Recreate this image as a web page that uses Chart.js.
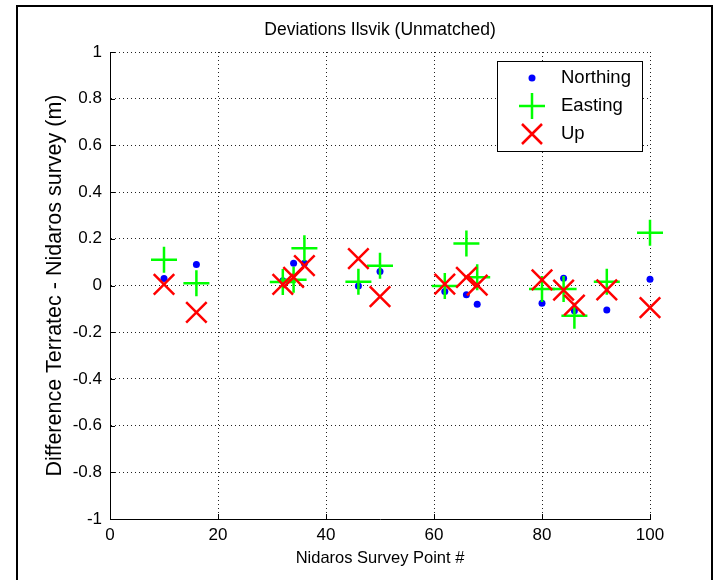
<!DOCTYPE html>
<html>
<head>
<meta charset="utf-8">
<script src="https://cdn.jsdelivr.net/npm/chart.js@4.4.0/dist/chart.umd.min.js"></script>
<style>
    body { margin: 0; background: #fff; }
    #wrap { width: 715px; height: 580px; }
</style>
</head>
<body>
<div id="wrap"><canvas id="grafica" width="715" height="580"></canvas></div>
<script>
// Nidaros survey points and the deviations (m)
const puntos   = [10, 16, 32, 34, 36, 46, 50, 62, 66, 68, 80, 84, 86, 92, 100];
const northing = [0.03, 0.09, 0.02, 0.095, 0.095, -0.002, 0.06, -0.026, -0.04, -0.08, -0.076, 0.031, -0.108, -0.105, 0.027];
const easting  = [0.11, 0.01, 0.015, 0.025, 0.16, 0.016, 0.085, -0.002, 0.18, 0.035, -0.015, -0.015, -0.13, 0.016, 0.226];
const up       = [0.005, -0.115, 0.005, 0.035, 0.085, 0.115, -0.048, 0.006, 0.035, 0.002, 0.024, -0.02, -0.084, -0.019, -0.095];

const ticksX = [0, 20, 40, 60, 80, 100];
const ticksY = [-1, -0.8, -0.6, -0.4, -0.2, 0, 0.2, 0.4, 0.6, 0.8, 1];

const titulo = 'Deviations Ilsvik (Unmatched)';
const tituloX = 'Nidaros Survey Point #';
const tituloY = 'Difference Terratec - Nidaros survey (m)';
const leyenda = ['Northing', 'Easting', 'Up'];

const fuente = '"Liberation Sans", Arial, sans-serif';
Chart.defaults.font.family = fuente;
Chart.defaults.font.size = 17;
Chart.defaults.color = '#000';

function pares(ys) {
    return puntos.map((x, i) => ({ x: x, y: ys[i] }));
}

// figure frame, inward ticks, title and legend (matlab look)
const marco = {
    id: 'marco',
    beforeDraw(chart) {
        const ctx = chart.ctx;
        ctx.save();
        ctx.fillStyle = '#fff';
        ctx.fillRect(0, 0, chart.width, chart.height);
        ctx.strokeStyle = '#000';
        ctx.lineWidth = 2;
        ctx.beginPath();
        ctx.moveTo(17, 580);
        ctx.lineTo(17, 6);
        ctx.lineTo(712, 6);
        ctx.lineTo(712, 580);
        ctx.stroke();
        ctx.restore();
    },
    afterDraw(chart) {
        const ctx = chart.ctx;
        const xs = chart.scales.x, ys = chart.scales.y;
        const area = chart.chartArea;
        ctx.save();
        ctx.strokeStyle = '#000';
        ctx.lineWidth = 1;
        ctx.beginPath();
        ticksX.forEach(v => {
            const px = Math.round(xs.getPixelForValue(v)) + 0.5;
            ctx.moveTo(px, area.bottom);
            ctx.lineTo(px, area.bottom - 5);
        });
        ticksY.forEach(v => {
            const py = Math.round(ys.getPixelForValue(v)) + 0.5;
            ctx.moveTo(area.left, py);
            ctx.lineTo(area.left + 5, py);
        });
        ctx.stroke();

        ctx.fillStyle = '#000';
        ctx.font = '17.5px ' + fuente;
        ctx.textAlign = 'center';
        ctx.textBaseline = 'middle';
        ctx.fillText(titulo, (area.left + area.right) / 2, 30);

        // legend
        ctx.fillStyle = '#fff';
        ctx.fillRect(497.5, 61.5, 145, 90);
        ctx.strokeStyle = '#000';
        ctx.strokeRect(497.5, 61.5, 145, 90);
        const filas = [78, 106, 134];
        ctx.fillStyle = '#0000ff';
        ctx.beginPath();
        ctx.arc(532, filas[0], 3.5, 0, Math.PI * 2);
        ctx.fill();
        ctx.lineWidth = 2.5;
        ctx.strokeStyle = '#00ff00';
        ctx.beginPath();
        ctx.moveTo(519, filas[1]); ctx.lineTo(545, filas[1]);
        ctx.moveTo(532, filas[1] - 13); ctx.lineTo(532, filas[1] + 13);
        ctx.stroke();
        ctx.strokeStyle = '#ff0000';
        ctx.beginPath();
        ctx.moveTo(522, filas[2] - 10); ctx.lineTo(542, filas[2] + 10);
        ctx.moveTo(522, filas[2] + 10); ctx.lineTo(542, filas[2] - 10);
        ctx.stroke();
        ctx.fillStyle = '#000';
        ctx.font = '18.5px ' + fuente;
        ctx.textAlign = 'left';
        leyenda.forEach((t, i) => ctx.fillText(t, 561, filas[i]));
        ctx.restore();
    }
};

const ctx = document.getElementById('grafica').getContext('2d');
const myChart = new Chart(ctx, {
    type: 'scatter',
    data: {
        datasets: [{
            label: leyenda[0],
            data: pares(northing),
            pointStyle: 'circle',
            pointRadius: 3.5,
            pointBorderWidth: 0,
            backgroundColor: '#0000ff',
            borderColor: '#0000ff',
            order: 3
        }, {
            label: leyenda[1],
            data: pares(easting),
            pointStyle: 'cross',
            pointRadius: 13,
            pointBorderWidth: 2.5,
            borderColor: '#00ff00',
            backgroundColor: '#00ff00',
            order: 2
        }, {
            label: leyenda[2],
            data: pares(up),
            pointStyle: 'crossRot',
            pointRadius: 14.5,
            pointBorderWidth: 2.5,
            borderColor: '#ff0000',
            backgroundColor: '#ff0000',
            order: 1
        }]
    },
    options: {
        responsive: false,
        animation: false,
        events: [],
        clip: false,
        layout: {
            padding: { left: 0, top: 52, right: 65, bottom: 0 }
        },
        plugins: {
            legend: { display: false },
            tooltip: { enabled: false },
            title: { display: false }
        },
        scales: {
            x: {
                type: 'linear',
                min: 0,
                max: 100,
                afterFit: s => { s.height = 61; },
                afterBuildTicks: s => { s.ticks = ticksX.map(v => ({ value: v })); },
                ticks: { padding: 6, maxRotation: 0 },
                grid: {
                    drawTicks: false,
                    color: '#222',
                    lineWidth: 1
                },
                border: { display: true, color: '#000', width: 1, dash: [1, 3] },
                title: {
                    display: true,
                    text: tituloX,
                    font: { size: 16.5 },
                    padding: { bottom: 12 }
                }
            },
            y: {
                type: 'linear',
                min: -1,
                max: 1,
                afterFit: s => { s.width = 110; },
                afterBuildTicks: s => { s.ticks = ticksY.map(v => ({ value: v })); },
                ticks: { padding: 8, callback: v => String(v) },
                grid: {
                    drawTicks: false,
                    color: '#222',
                    lineWidth: 1
                },
                border: { display: true, color: '#000', width: 1, dash: [1, 3] },
                title: {
                    display: true,
                    text: tituloY,
                    font: { size: 21.5 },
                    padding: { top: 42 }
                }
            }
        }
    },
    plugins: [marco]
});
</script>
</body>
</html>
